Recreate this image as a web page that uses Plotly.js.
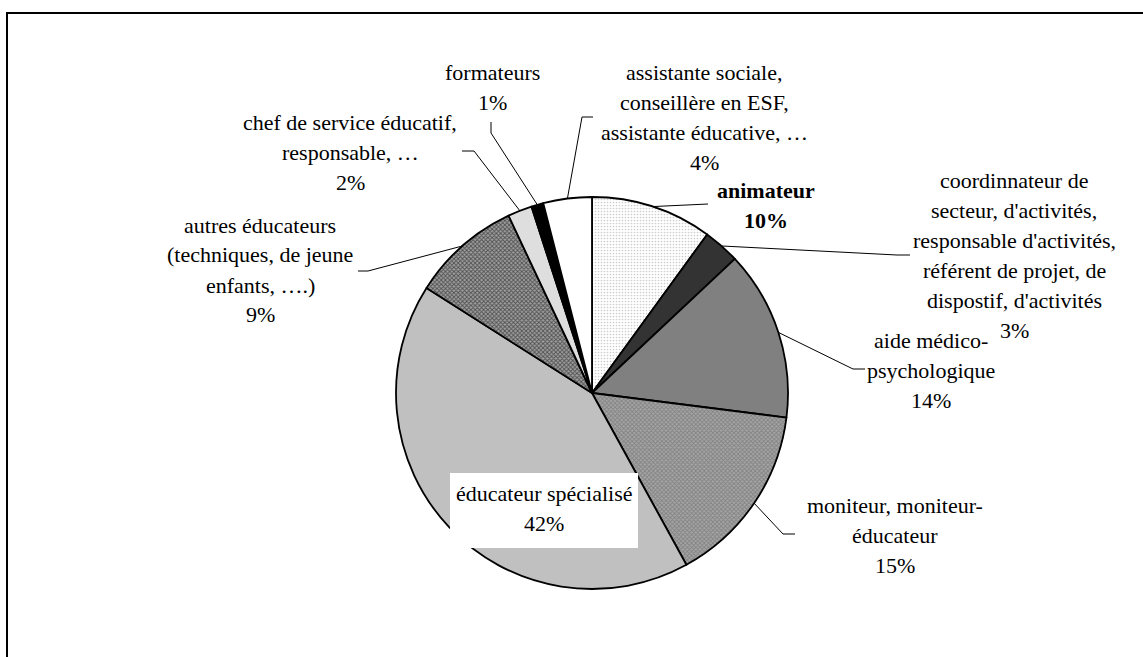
<!DOCTYPE html>
<html>
<head>
<meta charset="utf-8">
<script src="https://cdn.plot.ly/plotly-3.0.1.min.js"></script>
</head>
<body style="margin:0">
<div id="chart" style="width:1143px;height:657px"></div>
<script>
// ---- data ----
const categories = [
  "animateur",
  "coordinnateur de secteur, d'activités, responsable d'activités, référent de projet, de dispostif, d'activités",
  "aide médico-psychologique",
  "moniteur, moniteur-éducateur",
  "éducateur spécialisé",
  "autres éducateurs (techniques, de jeune enfants, ….)",
  "chef de service éducatif, responsable, …",
  "formateurs",
  "assistante sociale, conseillère en ESF, assistante éducative, …"
];
const shares = [10, 3, 14, 15, 42, 9, 2, 1, 4];
const labelLines = [
  ["animateur"],
  ["coordinnateur de", "secteur, d'activités,", "responsable d'activités,", "référent de projet, de", "dispostif, d'activités"],
  ["aide médico-", "psychologique"],
  ["moniteur, moniteur-", "éducateur"],
  ["éducateur spécialisé"],
  ["autres éducateurs", "(techniques, de jeune", "enfants, ….)"],
  ["chef de service éducatif,", "responsable, …"],
  ["formateurs"],
  ["assistante sociale,", "conseillère en ESF,", "assistante éducative, …"]
];

// ---- styles / layout ----
const W = 1143, H = 657;
const CX = 592, CY = 393, R = 196;
const FONT = 'Liberation Serif';
const fills   = ['#ffffff', '#333333', '#808080', '#a6a6a6', '#c0c0c0', '#a0a0a0', '#dedede', '#000000', '#ffffff'];
const fgs     = ['#9a9a9a', '#333333', '#808080', '#5c5c5c', '#c0c0c0', '#000000', '#dedede', '#000000', '#ffffff'];
const shapesP = ['.', '', '', 'x', '', 'x', '', '', ''];
const pSizes  = [3, 4, 4, 3, 4, 3, 4, 4, 4];
const pSolid  = [0.25, 0.4, 0.4, 0.5, 0.4, 0.5, 0.4, 0.4, 0.4];
const boldLabel = [true, false, false, false, false, false, false, false, false];
// label anchor (center x, first line center y) in pixels
const labelPos = [[766,190],[1014,180],[931,340],[895,505],[544,493],[260,225],[350,122],[492,72],[704,72]];
// leader line bends (after the slice edge point), pixels
const leaderPts = [
  [[708,204]],
  [[897,255],[910,255]],
  [[853,369],[865,369]],
  [[783,534],[795,534]],
  null,
  [[368,271],[358,271]],
  [[474,151],[462,151]],
  [[491,133],[491,122]],
  [[582,117],[593,117]]
];
const LINE_H = 30;

const px = x => x / W;
const py = y => 1 - y / H;

const total = shares.reduce((a,b)=>a+b,0);
const annotations = [];
const shapes = [];

// frame
shapes.push({type:'rect', xref:'paper', yref:'paper', x0:px(7), x1:1.02, y0:-0.02, y1:py(13),
  line:{color:'#000', width:2}, fillcolor:'rgba(0,0,0,0)', layer:'above'});

// white box behind the "éducateur spécialisé" label
shapes.push({type:'rect', xref:'paper', yref:'paper', x0:px(450), x1:px(638), y0:py(548), y1:py(473),
  line:{width:0}, fillcolor:'#ffffff', layer:'above'});

let cum = 0;
shares.forEach((v, i) => {
  const mid = (cum + v/2) / total * 2 * Math.PI;
  cum += v;
  const ex = CX + R * Math.sin(mid), ey = CY - R * Math.cos(mid);
  if (leaderPts[i]) {
    let d = 'M' + px(ex) + ',' + py(ey);
    leaderPts[i].forEach(p => { d += ' L' + px(p[0]) + ',' + py(p[1]); });
    shapes.push({type:'path', xref:'paper', yref:'paper', path:d, line:{color:'#000', width:1}, layer:'above'});
  }
  const lines = labelLines[i].concat([v + '%']);
  lines.forEach((t, k) => {
    annotations.push({
      xref:'paper', yref:'paper', x:px(labelPos[i][0]), y:py(labelPos[i][1] + k*LINE_H),
      xanchor:'center', yanchor:'middle', showarrow:false,
      text: boldLabel[i] ? '<b>' + t + '</b>' : t,
      font:{family:FONT, size:22, color:'#000000'}
    });
  });
});

const trace = {
  type:'pie',
  labels: categories,
  values: shares,
  sort:false,
  direction:'clockwise',
  rotation:0,
  textinfo:'none',
  hoverinfo:'label+percent',
  showlegend:false,
  domain:{x:[px(CX-R), px(CX+R)], y:[py(CY+R), py(CY-R)]},
  marker:{
    colors: fills,
    line:{color:'#000', width:1.8},
    pattern:{shape: shapesP, fgcolor: fgs, bgcolor: fills, size: pSizes, solidity: pSolid, fillmode:'overlay'}
  }
};

Plotly.newPlot('chart', [trace], {
  width:W, height:H,
  margin:{l:0, r:0, t:0, b:0},
  paper_bgcolor:'#fff',
  showlegend:false,
  annotations: annotations,
  shapes: shapes
}, {displayModeBar:false});
</script>
</body>
</html>
